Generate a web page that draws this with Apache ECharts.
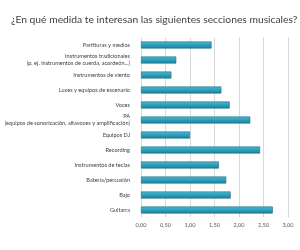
<!DOCTYPE html>
<html><head><meta charset="utf-8">
<script src="https://cdn.jsdelivr.net/npm/echarts@6/dist/echarts.min.js"></script>
<style>html,body{margin:0;padding:0;background:#fff}#c{width:300px;height:250px}</style>
</head><body><div id="c"></div>
<script>
const categories = [
  "Partituras y medios",
  "Instrumentos tradicionales\n(p. ej. instrumentos de cuerda, acordeón...)",
  "Instrumentos de viento",
  "Luces y equipos de escenario",
  "Voces",
  "PA\n(equipos de sonorización, altavoces y amplificación)",
  "Equipos DJ",
  "Recording",
  "Instrumentos de teclas",
  "Batería/percusión",
  "Bajo",
  "Guitarra"
];
const values = [1.44, 0.72, 0.62, 1.64, 1.81, 2.23, 1.00, 2.43, 1.59, 1.74, 1.83, 2.69];
const xTicks = [0, 0.5, 1, 1.5, 2, 2.5, 3];

const chart = echarts.init(document.getElementById('c'), null, {renderer: 'canvas'});
chart.setOption({
  animation: false,
  title: {
    text: '¿En qué medida te interesan las siguientes secciones musicales?',
    left: 6, top: 10,
    textStyle: {fontFamily: 'Lato, Open Sans, sans-serif', fontSize: 10.3, fontWeight: 'normal', color: '#404040'}
  },
  grid: {left: 141, right: 12, top: 37.5, bottom: 32.5},
  xAxis: {
    type: 'value', min: 0, max: 3, interval: 0.5,
    axisLine: {show: false}, axisTick: {show: false},
    splitLine: {lineStyle: {color: '#d9d9d9', width: 1}},
    axisLabel: {fontSize: 5.6, color: '#595959', fontFamily: 'Lato, sans-serif', margin: 5,
      formatter: v => v.toFixed(2).replace('.', ',')}
  },
  yAxis: {
    type: 'category', data: categories, inverse: true,
    axisLine: {show: false}, axisTick: {show: false},
    axisLabel: {fontSize: 5.6, color: '#404040', fontFamily: 'Lato, sans-serif', margin: 11, lineHeight: 7, align: 'right'}
  },
  series: [{
    type: 'bar', data: values, barWidth: 7,
    itemStyle: {
      color: new echarts.graphic.LinearGradient(0, 0, 0, 1, [
        {offset: 0, color: '#4fb8d1'}, {offset: 0.5, color: '#2a9fbc'}, {offset: 1, color: '#1d7f98'}
      ]),
      borderColor: '#1e6e82', borderWidth: 0.6
    }
  }]
});
</script></body></html>
